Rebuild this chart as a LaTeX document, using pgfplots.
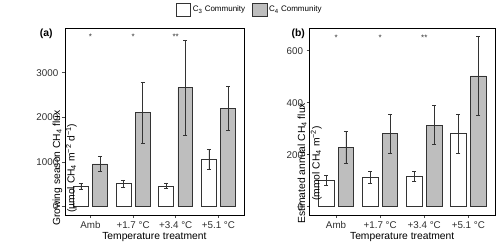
\documentclass[border=0pt]{standalone}
\usepackage{fontspec}
\setmainfont{Liberation Sans}
\usepackage{pgfplots}
\pgfplotsset{compat=1.18}
\definecolor{barc}{RGB}{190,190,190}
\definecolor{edge}{RGB}{51,51,51}
\definecolor{tickc}{RGB}{77,77,77}

\pgfplotstableread{
x  c3   c3e  c4    c4e
0  460  65   956   167
1  515  75   2100  683
2  463  65   2664  1063
3  1060 220  2201  500
}\tabA
\pgfplotstableread{
x  c3   c3e  c4    c4e
0  100  19   228   62
1  113  22   282   75
2  118  19   314   76
3  281  74   503   152
}\tabB

\pgfplotsset{
 panel/.style={
  scale only axis, anchor=south west, height=186.7pt,
  xmin=-0.6, xmax=3.6, xtick={0,1,2,3},
  xticklabels={Amb,+1.7 °C,+3.4 °C,+5.1 °C},
  ybar, bar width=0.35,
  axis line style={black, line width=0.6pt},
  tick style={tickc, line width=0.6pt},
  tick align=outside, major tick length=3pt,
  xtick pos=bottom, ytick pos=left,
  ticklabel style={font=\fontsize{9.8}{11}\selectfont, text=tickc!60!black},
  /pgf/number format/assume math mode=true,
  /pgf/number format/1000 sep={},
  xlabel={Temperature treatment},
  xlabel style={at={(axis description cs:0.5,0)}, anchor=center, yshift=-22.5pt},
  label style={font=\fontsize{10.3}{14.5}\selectfont},
  ylabel style={at={(axis description cs:0,0.5)}, anchor=center, align=center, rotate=0},
 },
 errs/.style={error bars/.cd, y dir=both, y explicit,
  error bar style={edge, line width=0.6pt},
  error mark options={edge, rotate=90, mark size=2pt, line width=0.6pt}},
 c3/.style={fill=white, draw=edge, line width=0.7pt, bar shift=-0.225, errs},
 c4/.style={fill=barc, draw=edge, line width=0.7pt, bar shift=0.225, errs},
}

\begin{document}
\begin{tikzpicture}
\useasboundingbox (0,0) rectangle (500pt,246pt);

\begin{axis}[panel, at={(64.8pt,31pt)}, width=179.2pt,
  ymin=-190, ymax=3995, ytick={0,1000,2000,3000},
  ylabel={Growing season CH\textsubscript{4} flux\\(µmol CH\textsubscript{4} m\textsuperscript{−2} d\textsuperscript{−1})},
  ylabel style={xshift=-46.5pt},
  legend style={at={(axis description cs:0.619,1.0996)}, anchor=west, draw=none, fill=none,
    inner sep=0pt, legend columns=2, font=\fontsize{8}{9}\selectfont,
    /tikz/every even column/.append style={column sep=5pt}},
  legend cell align=left,
]
\addlegendimage{legend image code/.code={\draw[fill=white, draw=edge, line width=0.7pt] (0pt,-6.35pt) rectangle (14.3pt,6.35pt);}}
\addlegendentry{C\textsubscript{3} Community}
\addlegendimage{legend image code/.code={\draw[fill=barc, draw=edge, line width=0.7pt] (0pt,-6.35pt) rectangle (14.3pt,6.35pt);}}
\addlegendentry{C\textsubscript{4} Community}
\addplot[c3] table[x=x, y=c3, y error=c3e] {\tabA};
\addplot[c4] table[x=x, y=c4, y error=c4e] {\tabA};
\node[font=\fontsize{8}{8}\selectfont, text=edge] at (axis cs:0,3800) {*};
\node[font=\fontsize{8}{8}\selectfont, text=edge] at (axis cs:1,3800) {*};
\node[font=\fontsize{8}{8}\selectfont, text=edge] at (axis cs:2,3800) {**};
\end{axis}

\begin{axis}[panel, at={(309.6pt,31pt)}, width=185.2pt,
  ymin=-32, ymax=686, ytick={0,200,400,600},
  ylabel={Estimated annual CH\textsubscript{4} flux\\(mmol CH\textsubscript{4} m\textsuperscript{−2})},
  ylabel style={xshift=-41.8pt},
]
\addplot[c3] table[x=x, y=c3, y error=c3e] {\tabB};
\addplot[c4] table[x=x, y=c4, y error=c4e] {\tabB};
\node[font=\fontsize{8}{8}\selectfont, text=edge] at (axis cs:0,650) {*};
\node[font=\fontsize{8}{8}\selectfont, text=edge] at (axis cs:1,650) {*};
\node[font=\fontsize{8}{8}\selectfont, text=edge] at (axis cs:2,650) {**};
\end{axis}

\node[font=\fontsize{10.4}{12}\bfseries\selectfont, anchor=base] at (46.3pt,209pt) {(a)};
\node[font=\fontsize{10.4}{12}\bfseries\selectfont, anchor=base] at (298.3pt,209pt) {(b)};
\end{tikzpicture}
\end{document}
